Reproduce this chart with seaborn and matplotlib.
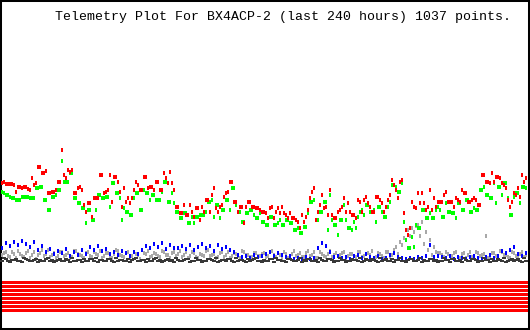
import numpy as np
import pandas as pd
import matplotlib
matplotlib.use("Agg")
import matplotlib.pyplot as plt
import seaborn as sns

TITLE = "Telemetry Plot For BX4ACP-2 (last 240 hours) 1037 points."

# sample times (hours over the 240 h window), two interleaved sample passes
hours_a = np.linspace(0.9, 238.2, 132)
hours_b = np.linspace(1.8, 237.3, 131)

# channel levels (screen level, larger = lower on plot)
red_a = [183, 184, 184, 185, 187, 188, 187, 190, 185, 167, 173, 171, 193, 192, 182, 150, 178, 172, 193, 188, 190, 212,
         203, 198, 198, 175, 192, 175, 177, 182, 207, 202, 203, 190, 185, 190, 177, 187, 190, 182, 190, 178, 172, 190,
         207, 213, 215, 205, 217, 208, 207, 200, 212, 188, 212, 205, 193, 182, 202, 212, 207, 207, 202, 207, 208, 212,
         213, 208, 218, 208, 207, 215, 213, 218, 222, 215, 217, 198, 188, 212, 195, 207, 190, 218, 212, 207, 212, 212,
         215, 200, 212, 197, 207, 212, 197, 203, 207, 195, 185, 198, 180, 230, 228, 207, 193, 193, 210, 190, 198, 202,
         202, 192, 202, 207, 200, 190, 193, 202, 198, 205, 175, 182, 183, 182, 177, 183, 188, 207, 193, 188, 175, 178]
red_b = [182, 184, 184, 192, 187, 187, 189, 178, 183, 167, 173, 193, 192, 190, 182, 175, 170, 170, 193, 187, 205,
         203, 217, 198, 175, 193, 190, 202, 177, 192, 188, 198, 198, 182, 190, 177, 188, 187, 182, 190, 173, 183, 183,
         207, 213, 205, 215, 212, 208, 220, 212, 200, 195, 208, 207, 197, 192, 182, 202, 207, 223, 202, 207, 208, 210,
         212, 218, 207, 212, 213, 213, 218, 218, 220, 228, 222, 210, 192, 220, 205, 208, 215, 215, 218, 210, 198, 203,
         215, 218, 202, 200, 203, 212, 197, 200, 212, 200, 180, 190, 182, 213, 235, 202, 208, 203, 203, 207, 210, 207,
         202, 195, 202, 202, 198, 202, 193, 202, 200, 200, 205, 175, 182, 173, 177, 178, 185, 200, 202, 195, 197, 182]
green_a = [192, 195, 197, 198, 200, 197, 197, 198, 198, 188, 187, 200, 210, 197, 190, 161, 182, 173, 198, 203, 208, 223,
           210, 220, 195, 198, 197, 207, 183, 193, 220, 212, 215, 198, 193, 210, 193, 200, 195, 200, 192, 182, 202, 203,
           212, 218, 213, 223, 223, 217, 215, 212, 202, 217, 205, 210, 200, 210, 188, 212, 222, 213, 210, 215, 218, 222,
           225, 217, 225, 223, 225, 220, 223, 230, 228, 233, 227, 202, 200, 220, 212, 202, 195, 225, 235, 220, 220, 228,
           222, 217, 210, 205, 212, 210, 207, 212, 217, 202, 185, 192, 183, 240, 248, 247, 228, 210, 218, 213, 218, 207,
           217, 203, 212, 213, 203, 210, 200, 212, 208, 210, 190, 195, 198, 183, 187, 195, 183, 215, 197, 193, 187, 188]
green_b = [193, 195, 198, 200, 200, 197, 197, 198, 188, 187, 200, 210, 197, 195, 190, 182, 182, 173, 198, 203, 208,
           210, 220, 210, 195, 198, 197, 183, 193, 198, 208, 212, 215, 193, 210, 190, 193, 195, 200, 200, 182, 202, 193,
           212, 218, 213, 223, 217, 217, 215, 215, 202, 200, 205, 218, 210, 200, 188, 205, 212, 222, 213, 210, 218, 213,
           222, 225, 217, 225, 220, 225, 220, 223, 230, 233, 227, 213, 202, 220, 212, 202, 230, 220, 225, 220, 205, 228,
           230, 228, 212, 215, 205, 212, 222, 207, 217, 207, 185, 187, 192, 222, 248, 237, 225, 228, 210, 218, 218, 210,
           210, 217, 212, 213, 218, 203, 210, 200, 212, 210, 190, 187, 195, 198, 203, 187, 183, 198, 215, 193, 203, 187]
blue_a = [248, 243, 246, 242, 245, 241, 244, 247, 242, 250, 246, 252, 249, 254, 251, 253, 249, 256, 252, 255, 250, 254,
          247, 250, 246, 251, 249, 254, 252, 255, 251, 253, 256, 252, 254, 250, 246, 248, 244, 247, 243, 249, 245, 248,
          248, 246, 249, 245, 250, 247, 244, 248, 246, 251, 245, 249, 247, 250, 252, 255, 257, 256, 258, 255, 257, 256,
          254, 252, 256, 253, 255, 257, 256, 259, 258, 259, 257, 259, 258, 248, 243, 246, 252, 257, 256, 258, 257, 259,
          256, 255, 258, 254, 257, 258, 256, 259, 258, 255, 253, 257, 258, 259, 258, 259, 257, 258, 256, 245, 257, 256,
          257, 258, 256, 259, 257, 258, 259, 257, 256, 258, 259, 257, 255, 258, 256, 251, 253, 250, 247, 254, 256, 253]
gray_a = [255, 252, 257, 254, 251, 256, 253, 258, 252, 255, 250, 254, 257, 253, 256, 252, 255, 258, 251, 254, 256, 253,
          256, 252, 255, 258, 253, 257, 254, 251, 256, 253, 258, 252, 255, 250, 254, 257, 253, 256, 251, 255, 258, 252,
          254, 257, 252, 256, 253, 258, 255, 251, 256, 254, 257, 252, 255, 258, 253, 256, 251, 255, 257, 253, 256, 254,
          257, 252, 255, 253, 258, 254, 256, 251, 255, 257, 253, 256, 252, 258, 254, 257, 251, 255, 256, 253, 258, 254,
          256, 252, 257, 254, 255, 258, 253, 256, 252, 257, 250, 254, 245, 240, 236, 232, 225, 222, 232, 240, 247, 253,
          255, 252, 256, 253, 257, 254, 258, 252, 256, 253, 255, 236, 257, 253, 256, 252, 255, 258, 253, 256, 252, 255]
gray_b = [253, 256, 252, 258, 254, 257, 251, 255, 259, 253, 256, 250, 255, 258, 252, 256, 253, 257, 251, 255, 258,
          252, 257, 254, 251, 256, 253, 258, 250, 255, 257, 252, 256, 254, 259, 253, 251, 256, 254, 257, 252, 255, 253,
          256, 251, 255, 258, 252, 257, 254, 256, 250, 255, 258, 253, 257, 252, 256, 254, 258, 252, 255, 257, 253, 256,
          253, 256, 251, 257, 255, 252, 258, 254, 256, 253, 257, 251, 255, 258, 252, 256, 254, 257, 253, 255, 252, 256,
          254, 257, 252, 256, 253, 251, 257, 254, 258, 252, 255, 247, 242, 238, 230, 228, 226, 236, 244, 250, 255, 252,
          253, 257, 254, 256, 252, 258, 253, 255, 257, 252, 256, 254, 258, 253, 256, 251, 255, 257, 252, 256, 254, 257]
black_a = [261, 259, 262, 260, 261, 262, 259, 261, 260, 262, 261, 259, 261, 262, 260, 261, 259, 262, 261, 260, 262, 261,
           259, 261, 262, 260, 261, 259, 262, 261, 260, 261, 262, 259, 261, 260, 262, 261, 259, 261, 262, 260, 261, 262,
           260, 261, 259, 262, 261, 260, 262, 261, 259, 261, 262, 260, 261, 259, 262, 261, 260, 262, 261, 259, 261, 262,
           261, 259, 262, 260, 261, 262, 259, 261, 260, 262, 261, 259, 261, 262, 260, 261, 259, 262, 261, 260, 262, 261,
           260, 261, 262, 259, 261, 260, 262, 261, 259, 261, 262, 260, 261, 262, 259, 261, 260, 262, 261, 259, 261, 262,
           261, 260, 262, 259, 261, 262, 260, 261, 259, 262, 261, 260, 262, 261, 259, 261, 262, 260, 261, 259, 262, 261]
black_b = [258, 261, 260, 259, 261, 258, 260, 261, 259, 260, 261, 258, 260, 261, 259, 261, 260, 258, 261, 260, 259,
           261, 259, 258, 260, 261, 259, 261, 258, 260, 261, 259, 260, 258, 261, 260, 259, 261, 258, 260, 261, 259, 260,
           258, 261, 260, 259, 261, 258, 260, 261, 259, 260, 258, 261, 260, 259, 261, 258, 260, 261, 259, 260, 258, 261,
           260, 261, 259, 258, 260, 261, 259, 260, 261, 258, 260, 259, 261, 260, 258, 261, 259, 260, 261, 258, 260, 261,
           259, 260, 258, 261, 260, 259, 261, 258, 260, 261, 259, 260, 258, 261, 260, 259, 261, 258, 260, 261, 259, 260,
           261, 258, 260, 259, 261, 260, 258, 261, 259, 260, 261, 258, 260, 259, 261, 260, 258, 261, 259, 260, 261, 258]

# digital bits (all set)
bits = [1, 1, 1, 1, 1, 1, 1, 1]

sns.set_theme(style="white")
plt.rcParams["font.family"] = ["Liberation Mono", "DejaVu Sans Mono"]

fig = plt.figure(figsize=(5.3, 3.3), dpi=100)
ax = fig.add_axes([0, 0, 1, 1])

vbar = [(-1.0, -1.5), (1.0, -1.5), (1.0, 1.5), (-1.0, 1.5), (-1.0, -1.5)]
hbar = [(-2.0, -1.2), (2.0, -1.2), (2.0, 1.2), (-2.0, 1.2), (-2.0, -1.2)]

series = [("gray", [(hours_a, gray_a), (hours_b, gray_b)], "#a8a8a8", vbar, 5.0),
          ("blue", [(hours_a, blue_a)], "#0000ff", vbar, 5.0),
          ("black", [(hours_a, black_a), (hours_b, black_b)], "#383838", hbar, 8.5),
          ("green", [(hours_a, green_a), (hours_b, green_b)], "#00ff00", vbar, 5.0),
          ("red", [(hours_a, red_a), (hours_b, red_b)], "#ff0000", vbar, 5.0)]
frames = []
for name, passes, _, _, _ in series:
    for hh, vv in passes:
        frames.append(pd.DataFrame({"hours": hh, "level": vv, "ch": name}))
df = pd.concat(frames, ignore_index=True)

for name, _, col, mk, sz in series:
    sub = df[df["ch"] == name]
    sns.scatterplot(data=sub, x="hours", y="level", color=col, marker=mk,
                    s=sz, linewidth=0, ax=ax, legend=False, zorder=3,
                    antialiased=False)

# digital bit lines
for k, b in enumerate(bits):
    if b:
        yb = 281.5 + 4 * k
        ax.hlines(yb, 0, 240, color="#ff0000", linewidth=2.16, zorder=2,
                  antialiased=False)

ax.set_xlim(0, 240)
ax.set_ylim(330, 0)
ax.set_xticks([])
ax.set_yticks([])
ax.set_xlabel("")
ax.set_ylabel("")
for sp in ax.spines.values():
    sp.set_visible(True)
    sp.set_color("black")
    sp.set_linewidth(2.9)

ax.text(283 / 530 * 240, 17, TITLE, ha="center", va="center",
        fontsize=9.5, color="black")

fig.savefig("out.png", dpi=100)
